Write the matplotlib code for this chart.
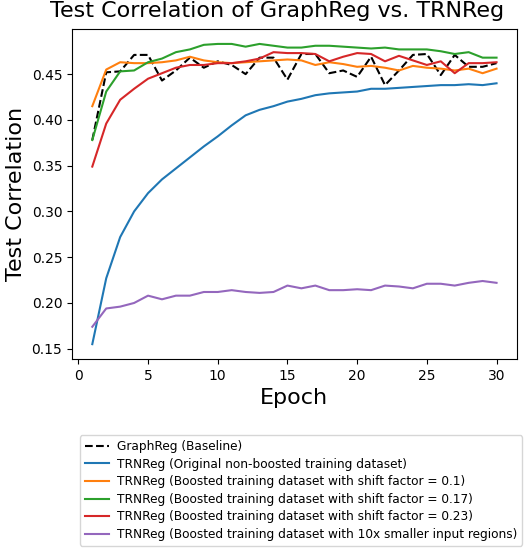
import numpy as np
import matplotlib
matplotlib.use('Agg')
import matplotlib.pyplot as plt

# Date (epoci 1..30)
epochs = list(range(1, 31))

graphreg = [0.378, 0.452, 0.453, 0.471, 0.471, 0.443, 0.454, 0.468, 0.457, 0.464,
            0.460, 0.450, 0.468, 0.468, 0.444, 0.472, 0.472, 0.451, 0.454, 0.447,
            0.469, 0.438, 0.454, 0.471, 0.472, 0.449, 0.471, 0.458, 0.458, 0.462]

trn_original = [0.155, 0.227, 0.272, 0.300, 0.320, 0.335, 0.347, 0.359, 0.371, 0.382,
                0.394, 0.405, 0.411, 0.415, 0.420, 0.423, 0.427, 0.429, 0.430, 0.431,
                0.434, 0.434, 0.435, 0.436, 0.437, 0.438, 0.438, 0.439, 0.438, 0.440]

trn_shift_01 = [0.415, 0.455, 0.463, 0.462, 0.462, 0.463, 0.465, 0.469, 0.465, 0.463,
                0.462, 0.463, 0.464, 0.465, 0.466, 0.465, 0.460, 0.463, 0.461, 0.458,
                0.459, 0.457, 0.454, 0.459, 0.457, 0.456, 0.454, 0.456, 0.451, 0.456]

trn_shift_017 = [0.378, 0.431, 0.453, 0.454, 0.463, 0.467, 0.474, 0.477, 0.482, 0.483,
                 0.483, 0.480, 0.483, 0.481, 0.479, 0.479, 0.481, 0.481, 0.480, 0.479,
                 0.478, 0.479, 0.477, 0.477, 0.477, 0.475, 0.472, 0.474, 0.468, 0.468]

trn_shift_023 = [0.349, 0.396, 0.422, 0.434, 0.445, 0.451, 0.457, 0.460, 0.460, 0.462,
                 0.462, 0.464, 0.467, 0.474, 0.473, 0.473, 0.472, 0.464, 0.469, 0.473,
                 0.472, 0.464, 0.470, 0.465, 0.460, 0.464, 0.451, 0.462, 0.462, 0.463]

trn_small_regions = [0.174, 0.194, 0.196, 0.200, 0.208, 0.204, 0.208, 0.208, 0.212, 0.212,
                     0.214, 0.212, 0.211, 0.212, 0.219, 0.216, 0.219, 0.214, 0.214, 0.215,
                     0.214, 0.219, 0.218, 0.216, 0.221, 0.221, 0.219, 0.222, 0.224, 0.222]

labels = ['GraphReg (Baseline)',
          'TRNReg (Original non-boosted training dataset)',
          'TRNReg (Boosted training dataset with shift factor = 0.1)',
          'TRNReg (Boosted training dataset with shift factor = 0.17)',
          'TRNReg (Boosted training dataset with shift factor = 0.23)',
          'TRNReg (Boosted training dataset with 10x smaller input regions)']

fig = plt.figure(figsize=(5.3, 5.56), dpi=100)
ax = fig.add_axes([0.136, 0.354, 0.839, 0.594])

ax.plot(epochs, graphreg, 'k--', label=labels[0])
ax.plot(epochs, trn_original, label=labels[1])
ax.plot(epochs, trn_shift_01, label=labels[2])
ax.plot(epochs, trn_shift_017, label=labels[3])
ax.plot(epochs, trn_shift_023, label=labels[4])
ax.plot(epochs, trn_small_regions, label=labels[5])

fig.suptitle('Test Correlation of GraphReg vs. TRNReg', fontsize=16, x=0.523, y=0.998, va='top')
ax.set_xlabel('Epoch', fontsize=16)
ax.set_ylabel('Test Correlation', fontsize=16)

fig.legend(loc='upper left', bbox_to_anchor=(0.139, 0.228), fontsize=8.7,
           labelspacing=0.38, borderaxespad=0.5, handletextpad=0.7)

fig.savefig('out.png', dpi=100)
